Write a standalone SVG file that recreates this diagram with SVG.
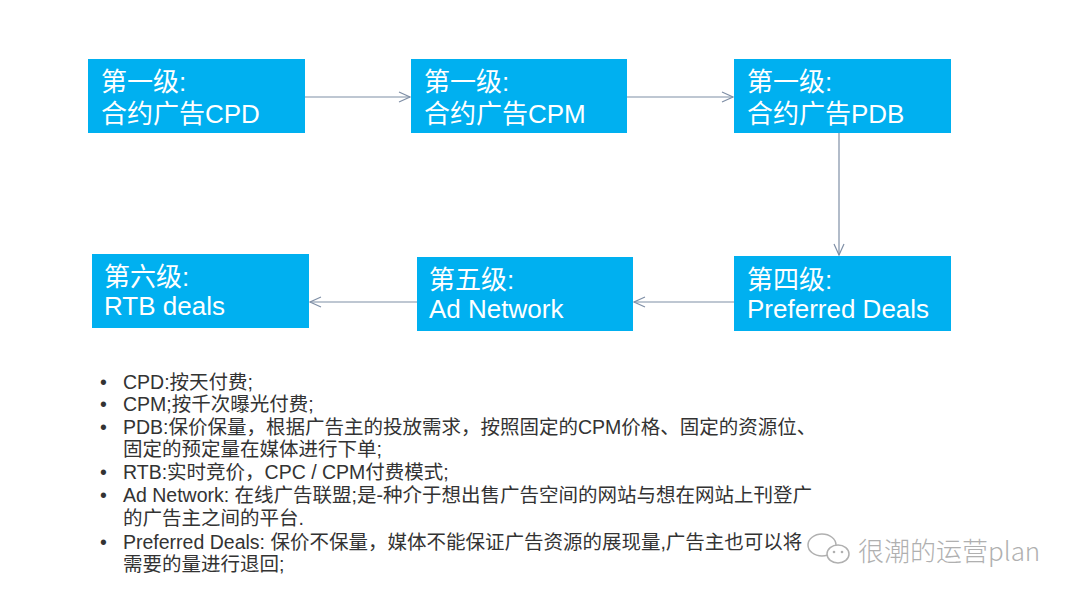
<svg xmlns="http://www.w3.org/2000/svg" width="1080" height="601" viewBox="0 0 1080 601">
<style>
.box{fill:#00B0F0;}
.bt{fill:#ffffff;font-family:"Liberation Sans","Noto Sans CJK SC",sans-serif;font-size:26px;}
.con{stroke:#7F8FA6;stroke-width:1.2;fill:none;marker-end:url(#arr);}
.li{fill:#333333;font-family:"Liberation Sans","Noto Sans CJK SC",sans-serif;font-size:19.5px;}
.wm{fill:#b0b0b0;font-family:"Noto Sans CJK SC",sans-serif;font-size:26px;font-weight:300;}
</style>
<defs>
<marker id="arr" markerUnits="userSpaceOnUse" markerWidth="14" markerHeight="12" refX="12" refY="6" orient="auto">
<path d="M1,1 L12,6 L1,11" fill="none" stroke="#7F8FA6" stroke-width="1.2"/>
</marker>
</defs>
<rect width="1080" height="601" fill="#ffffff"/>
<g id="connectors">
<line class="con" x1="305" y1="97" x2="410" y2="97"/>
<line class="con" x1="627" y1="97" x2="733" y2="97"/>
<line class="con" x1="839" y1="133" x2="839" y2="255"/>
<line class="con" x1="734" y1="302" x2="634" y2="302"/>
<line class="con" x1="417" y1="302" x2="310" y2="302"/>
</g>
<g id="n1"><rect class="box" x="88" y="59" width="217" height="74"/><text class="bt" x="101" y="91">第一级:</text><text class="bt" x="101" y="123">合约广告CPD</text></g>
<g id="n2"><rect class="box" x="411" y="59" width="216" height="74"/><text class="bt" x="424" y="91">第一级:</text><text class="bt" x="424" y="123">合约广告CPM</text></g>
<g id="n3"><rect class="box" x="734" y="59" width="217" height="74"/><text class="bt" x="747" y="91">第一级:</text><text class="bt" x="747" y="123">合约广告PDB</text></g>
<g id="n4"><rect class="box" x="734" y="256" width="217" height="75"/><text class="bt" x="747" y="289">第四级:</text><text class="bt" x="747" y="318">Preferred Deals</text></g>
<g id="n5"><rect class="box" x="417" y="257" width="216" height="74"/><text class="bt" x="429" y="289">第五级:</text><text class="bt" x="429" y="318">Ad Network</text></g>
<g id="n6"><rect class="box" x="92" y="254" width="217" height="74"/><text class="bt" x="104" y="286">第六级:</text><text class="bt" x="104" y="315">RTB deals</text></g>
<g id="notes">
<text class="li" x="100" y="389">•</text><text class="li" x="123" y="389">CPD:按天付费;</text>
<text class="li" x="100" y="411">•</text><text class="li" x="123" y="411">CPM;按千次曝光付费;</text>
<text class="li" x="100" y="434">•</text><text class="li" x="123" y="434">PDB:保价保量，根据广告主的投放需求，按照固定的CPM价格、固定的资源位、</text>
<text class="li" x="123" y="456">固定的预定量在媒体进行下单;</text>
<text class="li" x="100" y="479">•</text><text class="li" x="123" y="479">RTB:实时竞价，CPC / CPM付费模式;</text>
<text class="li" x="100" y="502">•</text><text class="li" x="123" y="502">Ad Network: 在线广告联盟;是-种介于想出售广告空间的网站与想在网站上刊登广</text>
<text class="li" x="123" y="525">的广告主之间的平台.</text>
<text class="li" x="100" y="549">•</text><text class="li" x="123" y="549">Preferred Deals: 保价不保量，媒体不能保证广告资源的展现量,广告主也可以将</text>
<text class="li" x="123" y="571">需要的量进行退回;</text>
</g>
<g id="watermark">
<ellipse cx="822" cy="545" rx="14" ry="11" fill="none" stroke="#b0b0b0" stroke-width="1.5"/>
<ellipse cx="838" cy="554" rx="11" ry="9" fill="#ffffff" stroke="#b0b0b0" stroke-width="1.5"/>
<circle cx="834" cy="552" r="1.3" fill="#b0b0b0"/>
<circle cx="842" cy="552" r="1.3" fill="#b0b0b0"/>
<text class="wm" x="858" y="561">很潮的运营plan</text>
</g>
</svg>
